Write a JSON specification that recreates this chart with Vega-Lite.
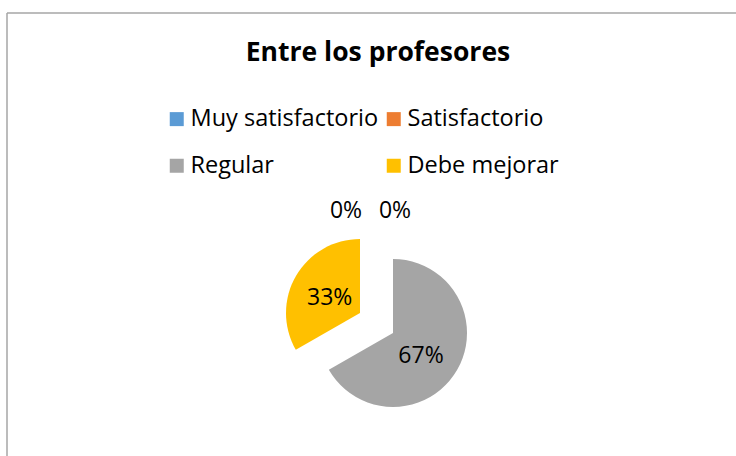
{
  "$schema": "https://vega.github.io/schema/vega-lite/v6.json",
  "usermeta": {"embedOptions": {"actions": false}},
  "autosize": "none",
  "width": 729,
  "height": 443,
  "padding": {"left": 7, "top": 13, "right": 0, "bottom": 0},
  "background": "white",
  "config": {"view": {"stroke": null}, "font": "Open Sans"},
  "title": {
    "text": "Entre los profesores",
    "font": "Open Sans",
    "fontSize": 26.5,
    "fontWeight": "bold",
    "color": "#000000",
    "anchor": "middle",
    "frame": "group",
    "baseline": "alphabetic",
    "offset": -75,
    "dx": 6.5
  },
  "layer": [
    {
      "data": {"values": [{"marco": "borde"}]},
      "layer": [
        {
          "mark": {"type": "rule", "stroke": "#A6A6A6", "strokeWidth": 1.5},
          "encoding": {"x": {"value": 0}, "y": {"value": 0}, "y2": {"value": "height"}}
        },
        {
          "mark": {"type": "rule", "stroke": "#A6A6A6", "strokeWidth": 1.5},
          "encoding": {"y": {"value": 0}, "x": {"value": 0}, "x2": {"value": "width"}}
        }
      ]
    },
    {
      "data": {
        "values": [
          {"categoria": "Muy satisfactorio", "porcentaje": 0, "orden": 1},
          {"categoria": "Satisfactorio", "porcentaje": 0, "orden": 2},
          {"categoria": "Regular", "porcentaje": 0.667, "orden": 3},
          {"categoria": "Debe mejorar", "porcentaje": 0.333, "orden": 4}
        ]
      },
      "encoding": {
        "theta": {"field": "porcentaje", "type": "quantitative", "stack": true},
        "order": {"field": "orden", "type": "quantitative"},
        "color": {
          "field": "categoria",
          "type": "nominal",
          "scale": {
            "domain": ["Muy satisfactorio", "Satisfactorio", "Regular", "Debe mejorar"],
            "range": ["#5B9BD5", "#ED7D31", "#A5A5A5", "#FFC000"]
          },
          "legend": {
            "title": null,
            "orient": "none",
            "legendX": 158,
            "legendY": 94,
            "columns": 2,
            "direction": "horizontal",
            "symbolType": "square",
            "symbolSize": 196,
            "symbolStrokeWidth": 0,
            "labelFont": "Open Sans",
            "labelFontSize": 23.5,
            "labelColor": "#000000",
            "labelLimit": 300,
            "labelOffset": 2,
            "columnPadding": 3,
            "rowPadding": 22
          }
        }
      },
      "layer": [
        {
          "mark": {"type": "arc", "outerRadius": 74, "xOffset": 21.5, "yOffset": 98.5},
          "encoding": {
            "opacity": {"condition": {"test": "datum.categoria === 'Debe mejorar'", "value": 0}, "value": 1}
          }
        },
        {
          "mark": {"type": "arc", "outerRadius": 74, "xOffset": -11.5, "yOffset": 78.5},
          "encoding": {
            "opacity": {"condition": {"test": "datum.categoria === 'Debe mejorar'", "value": 1}, "value": 0}
          }
        },
        {
          "mark": {"type": "text", "radius": 37, "font": "Open Sans", "fontSize": 23, "xOffset": 21.5, "yOffset": 98.5, "dx": -4, "dy": 4},
          "encoding": {
            "text": {"field": "porcentaje", "type": "quantitative", "format": ".0%"},
            "color": {"value": "#000000"},
            "opacity": {"condition": {"test": "datum.categoria === 'Regular'", "value": 1}, "value": 0}
          }
        },
        {
          "mark": {"type": "text", "radius": 35, "font": "Open Sans", "fontSize": 23, "xOffset": -11.5, "yOffset": 78.5, "dy": 3},
          "encoding": {
            "text": {"field": "porcentaje", "type": "quantitative", "format": ".0%"},
            "color": {"value": "#000000"},
            "opacity": {"condition": {"test": "datum.categoria === 'Debe mejorar'", "value": 1}, "value": 0}
          }
        },
        {
          "mark": {"type": "text", "radius": 122, "font": "Open Sans", "fontSize": 23, "xOffset": 21.5, "yOffset": 98.5, "dx": -47},
          "encoding": {
            "text": {"field": "porcentaje", "type": "quantitative", "format": ".0%"},
            "color": {"value": "#000000"},
            "opacity": {"condition": {"test": "datum.categoria === 'Muy satisfactorio'", "value": 1}, "value": 0}
          }
        },
        {
          "mark": {"type": "text", "radius": 122, "font": "Open Sans", "fontSize": 23, "xOffset": 21.5, "yOffset": 98.5, "dx": 2},
          "encoding": {
            "text": {"field": "porcentaje", "type": "quantitative", "format": ".0%"},
            "color": {"value": "#000000"},
            "opacity": {"condition": {"test": "datum.categoria === 'Satisfactorio'", "value": 1}, "value": 0}
          }
        }
      ]
    }
  ]
}
